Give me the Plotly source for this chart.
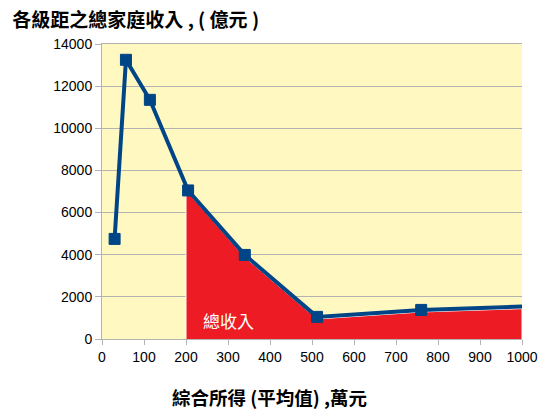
import plotly.graph_objects as go

# Data
income_x = [30, 57, 114, 205, 340, 512, 760, 1000]
total_income = [4750, 13250, 11350, 7050, 3990, 1050, 1380, 1540]
fill_x = [200, 205, 340, 512, 760, 1000]
fill_y = [6950, 6950, 3880, 950, 1280, 1440]
x_ticks = list(range(0, 1001, 100))
y_ticks = list(range(0, 14001, 2000))

BLUE = "#004586"
RED = "#ed1c24"

fig = go.Figure()
fig.add_trace(go.Scatter(
    x=[fill_x[0]] + fill_x + [fill_x[-1]],
    y=[0] + fill_y + [0],
    mode="lines", fill="toself", fillcolor=RED,
    line=dict(color="white", width=1), hoverinfo="skip", showlegend=False))
fig.add_trace(go.Scatter(
    x=income_x, y=total_income, mode="lines+markers",
    line=dict(color=BLUE, width=4),
    marker=dict(symbol="square", size=[11] * (len(income_x) - 1) + [0], color=BLUE,
                opacity=1, line=dict(width=1, color=BLUE)),
    showlegend=False, cliponaxis=True))

fig.add_annotation(x=300, y=900, text="總收入", showarrow=False,
                   font=dict(color="white", size=17, family="Noto Sans CJK TC"),
                   xref="x", yref="y")

fig.add_annotation(x=(269 - 102) / 420, y=-0.197, xref="paper", yref="paper",
                   text="<b>綜合所得 (平均值) ,萬元</b>", showarrow=False,
                   xanchor="center", yanchor="middle",
                   font=dict(size=18.5, family="Noto Sans CJK TC", color="black"))

fig.update_layout(
    width=560, height=420,
    margin=dict(l=102, r=38, t=44, b=81),
    paper_bgcolor="white", plot_bgcolor="#fff8c0",
    font=dict(family="Liberation Sans, Arial", size=14, color="black"),
    title=dict(text="<b>各級距之總家庭收入 , ( 億元 )</b>", x=0.022, xanchor="left",
               y=0.952, yanchor="middle",
               font=dict(size=19, family="Noto Sans CJK TC", color="black")),
    xaxis=dict(range=[0, 1000], tickvals=x_ticks, showgrid=False, showline=True,
               linecolor="#b3b3b3", linewidth=1, mirror=True, ticks="outside",
               ticklen=5, tickcolor="#b3b3b3", zeroline=False),
    yaxis=dict(range=[0, 14000], tickvals=y_ticks, ticktext=[str(v) for v in y_ticks],
               showgrid=True, gridcolor="#b3b3b3",
               showline=True, linecolor="#b3b3b3", linewidth=1, ticks="outside",
               ticklen=6, tickcolor="#b3b3b3", zeroline=False),
)

fig.write_html("out.html")
